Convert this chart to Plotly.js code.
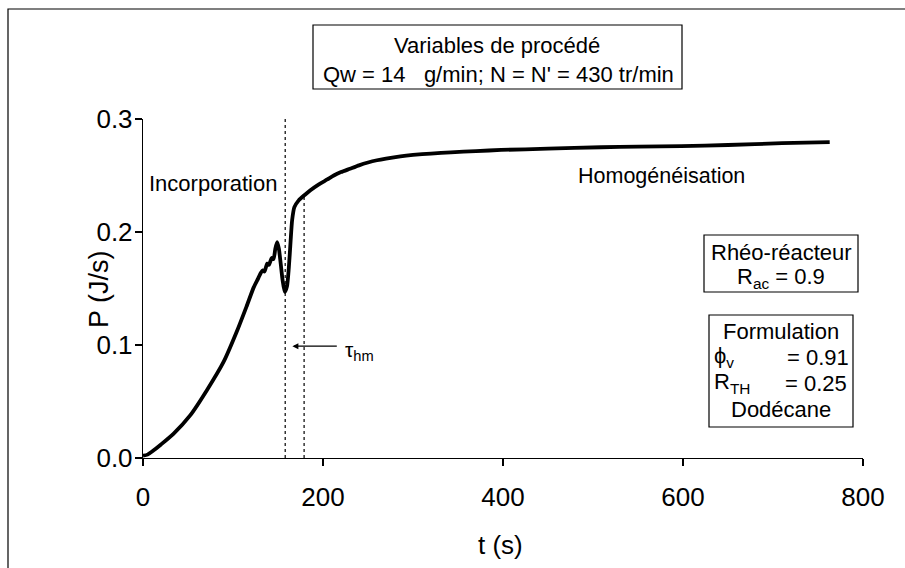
<!DOCTYPE html>
<html>
<head>
<meta charset="utf-8">
<script src="https://cdn.plot.ly/plotly-3.0.1.min.js"></script>
<style>
html,body{margin:0;padding:0;background:#fff;}
#chart{width:905px;height:568px;}
</style>
</head>
<body>
<div id="chart"></div>
<script>
// Time (s)
const t = [0, 5, 11.5, 20, 33.8, 52.4, 71, 89.5, 104, 115, 123, 128, 131, 133, 135, 138, 140, 143, 145, 147, 149, 151, 153, 155, 157.5, 160, 162, 164, 165.7, 168.2, 173, 180, 186, 195, 204.7, 212, 220, 230, 240, 250, 260, 270, 286, 300, 320, 342, 370, 398, 450, 509, 550, 598, 650, 710, 763];
// Power P (J/s)
const P = [0.002, 0.003, 0.0066, 0.012, 0.0214, 0.0377, 0.060, 0.085, 0.1115, 0.134, 0.151, 0.159, 0.164, 0.166, 0.165, 0.172, 0.171, 0.177, 0.176, 0.185, 0.191, 0.185, 0.172, 0.158, 0.147, 0.152, 0.168, 0.192, 0.2105, 0.222, 0.228, 0.233, 0.237, 0.242, 0.2465, 0.250, 0.253, 0.256, 0.259, 0.2615, 0.2635, 0.265, 0.267, 0.2682, 0.2694, 0.2705, 0.2716, 0.2726, 0.2737, 0.275, 0.2755, 0.276, 0.277, 0.2786, 0.2795];
// Vertical dashed markers (s) and their top values
const markerT = [158, 179];
const markerTop = [0.3, 0.232];
// Arrow for tau_hm
const arrowP = 0.099;
const arrowFrom = 217;
const arrowTo = 166;

const xTicks = [0, 200, 400, 600, 800];
const yTicks = [0.0, 0.1, 0.2, 0.3];
const yTickText = ['0.0', '0.1', '0.2', '0.3'];

const font = 'Liberation Sans, Arial, Helvetica, sans-serif';
const ML = 143, MR = 42, MT = 119, MB = 110, W = 905, H = 568;
const PW = W - ML - MR, PH = H - MT - MB;
const xp = px => (px - ML) / PW;
const yp = py => (H - MB - py) / PH;

const trace = {
  x: t, y: P, type: 'scatter', mode: 'lines',
  line: {color: '#000', width: 3.8, shape: 'spline', smoothing: 0.6},
  hoverinfo: 'skip', showlegend: false
};

const shapes = markerT.map((mt, i) => ({
  type: 'line', xref: 'x', yref: 'y', x0: mt, x1: mt, y0: 0, y1: markerTop[i],
  line: {color: '#000', width: 1.2, dash: 'dot'}
}));
// outer frame
shapes.push({type: 'rect', xref: 'paper', yref: 'paper',
  x0: xp(8), x1: xp(930), y0: yp(590), y1: yp(9),
  line: {color: '#000', width: 1.2}, fillcolor: 'rgba(0,0,0,0)', layer: 'below'});
// text boxes
function box(l, r, tp, bt) {
  return {type: 'rect', xref: 'paper', yref: 'paper', x0: xp(l), x1: xp(r), y0: yp(bt), y1: yp(tp),
    line: {color: '#000', width: 1.2}, fillcolor: '#fff', layer: 'above'};
}
shapes.push(box(313, 682, 25, 89));
shapes.push(box(704, 858, 235, 292));
shapes.push(box(709, 853, 315, 427));

const tf = (size) => ({family: font, size: size, color: '#000'});
function label(px, py, text, anchor, size) {
  return {x: xp(px), y: yp(py), xref: 'paper', yref: 'paper', showarrow: false,
    xanchor: anchor || 'center', yanchor: 'middle', text: text, font: tf(size || 22)};
}

const annotations = [
  {x: arrowTo, y: arrowP, ax: arrowFrom, ay: arrowP, xref: 'x', yref: 'y', axref: 'x', ayref: 'y',
   showarrow: true, arrowhead: 2, arrowsize: 1, arrowwidth: 1.2, arrowcolor: '#000', text: ''},
  label(343, 351, 'τ<sub>hm</sub>', 'left', 21),
  label(213, 183, 'Incorporation', 'center', 22),
  label(661, 176, 'Homogénéisation', 'center', 21.5),
  label(497, 45, 'Variables de procédé', 'center', 22),
  label(498, 74, 'Qw = 14   g/min; N = N\' = 430 tr/min', 'center', 22),
  label(781, 252, 'Rhéo-réacteur', 'center', 22),
  label(781, 278, 'R<sub>ac</sub> = 0.9', 'center', 22),
  label(781, 331, 'Formulation', 'center', 22),
  label(712, 357, 'ϕ<sub>v</sub>', 'left', 22),
  label(851, 357, '= 0.91', 'right', 22),
  label(712, 383, 'R<sub>TH</sub>', 'left', 22),
  label(849, 383, '= 0.25', 'right', 22),
  label(781, 409, 'Dodécane', 'center', 22),
  Object.assign(label(99, 289, 'P (J/s)', 'center', 27), {textangle: -90}),
  label(500, 545, 't (s)', 'center', 26)
];

const layout = {
  width: W, height: H,
  margin: {l: ML, r: MR, t: MT, b: MB, pad: 0},
  paper_bgcolor: '#fff', plot_bgcolor: '#fff',
  font: {family: font, color: '#000'},
  xaxis: {
    range: [0, 800], tickvals: xTicks, ticktext: xTicks.map(String),
    showgrid: false, zeroline: false, showline: true, linecolor: '#000', linewidth: 1.2,
    ticks: 'outside', ticklen: 7, tickwidth: 1.2, tickcolor: '#000',
    tickfont: tf(26), ticklabelstandoff: 9
  },
  yaxis: {
    range: [0, 0.3], tickvals: yTicks, ticktext: yTickText,
    showgrid: false, zeroline: false, showline: true, linecolor: '#000', linewidth: 1.2,
    ticks: 'outside', ticklen: 7, tickwidth: 1.2, tickcolor: '#000',
    tickfont: tf(26), ticklabelstandoff: -3
  },
  shapes: shapes,
  annotations: annotations,
  showlegend: false
};

Plotly.newPlot('chart', [trace], layout, {displayModeBar: false, staticPlot: true});
</script>
</body>
</html>
